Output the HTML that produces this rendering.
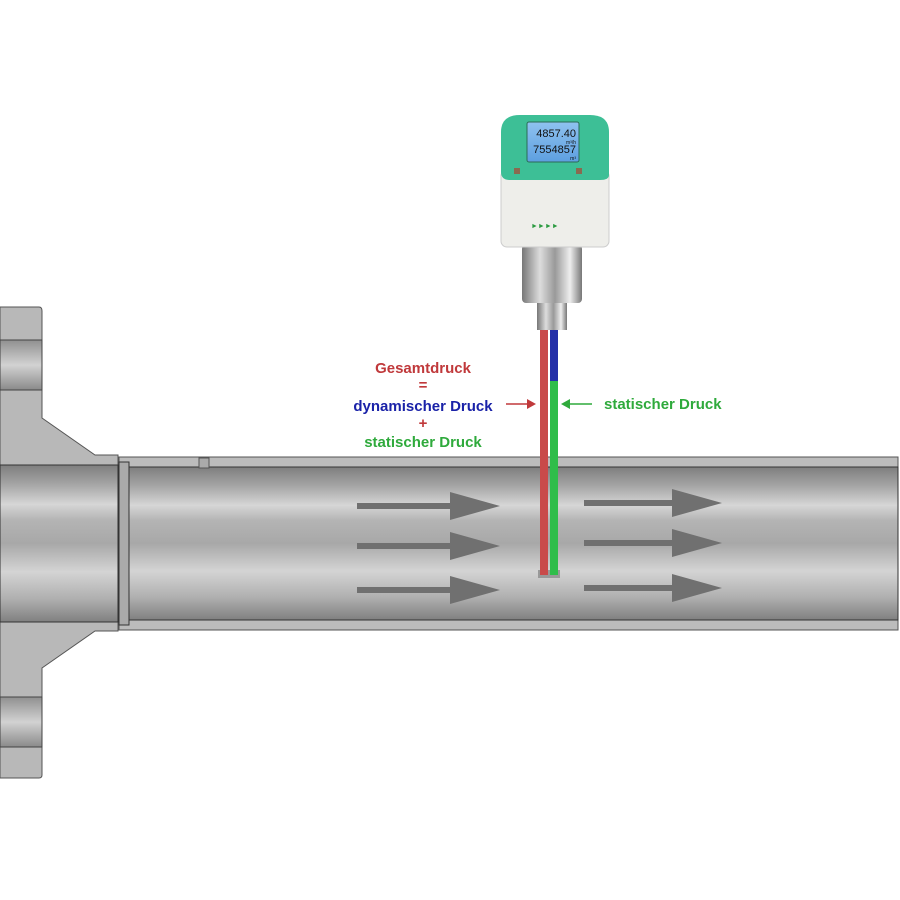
<!DOCTYPE html>
<html><head><meta charset="utf-8"><style>
html,body{margin:0;padding:0;background:#fff;width:900px;height:900px;overflow:hidden}
svg{display:block}
text{font-family:"Liberation Sans",Arial,sans-serif;font-weight:bold}
</style></head><body>
<svg width="900" height="900" viewBox="0 0 900 900" xmlns="http://www.w3.org/2000/svg">
<defs>
<linearGradient id="bore" x1="0" y1="0" x2="0" y2="1">
<stop offset="0" stop-color="#7e7e7e"/><stop offset="0.12" stop-color="#a4a4a4"/>
<stop offset="0.25" stop-color="#d6d6d6"/><stop offset="0.35" stop-color="#b4b4b4"/>
<stop offset="0.5" stop-color="#a8a8a8"/><stop offset="0.68" stop-color="#d4d4d4"/>
<stop offset="0.85" stop-color="#b0b0b0"/><stop offset="1" stop-color="#808080"/>
</linearGradient>
<linearGradient id="hole" x1="0" y1="0" x2="0" y2="1">
<stop offset="0" stop-color="#909090"/><stop offset="0.5" stop-color="#d2d2d2"/><stop offset="1" stop-color="#8a8a8a"/>
</linearGradient>
<linearGradient id="metal" x1="0" y1="0" x2="1" y2="0">
<stop offset="0" stop-color="#777"/><stop offset="0.3" stop-color="#ddd"/><stop offset="0.55" stop-color="#999"/><stop offset="0.8" stop-color="#eee"/><stop offset="1" stop-color="#777"/>
</linearGradient>
<linearGradient id="scr" x1="0" y1="0" x2="0" y2="1">
<stop offset="0" stop-color="#8fc2f0"/><stop offset="1" stop-color="#5d9fe0"/>
</linearGradient>
</defs>
<path d="M0,307 H39 Q42,307 42,311 V418 L95,455 H118 V631 H95 L42,668 V775 Q42,778 39,778 H0 Z" fill="#b8b8b8" stroke="#555" stroke-width="1"/>
<rect x="0" y="340" width="42" height="50" fill="url(#hole)" stroke="#444" stroke-width="1"/>
<rect x="0" y="697" width="42" height="50" fill="url(#hole)" stroke="#444" stroke-width="1"/>
<rect x="0" y="465" width="118" height="157" fill="url(#bore)" stroke="#333" stroke-width="1"/>
<rect x="119" y="457" width="779" height="173" fill="#bcbcbc" stroke="#555" stroke-width="1"/>
<rect x="119" y="467" width="779" height="153" fill="url(#bore)" stroke="#333" stroke-width="1"/>
<rect x="119" y="462" width="10" height="163" fill="#aaa" stroke="#333" stroke-width="1"/>
<rect x="199" y="458" width="10" height="10" fill="#aaa" stroke="#555" stroke-width="1"/>
<g fill="#707070">
<rect x="357" y="503" width="95" height="6"/><polygon points="450,492 500,506 450,520"/>
<rect x="357" y="543" width="95" height="6"/><polygon points="450,532 500,546 450,560"/>
<rect x="357" y="587" width="95" height="6"/><polygon points="450,576 500,590 450,604"/>
<rect x="584" y="500" width="90" height="6"/><polygon points="672,489 722,503 672,517"/>
<rect x="584" y="540" width="90" height="6"/><polygon points="672,529 722,543 672,557"/>
<rect x="584" y="585" width="90" height="6"/><polygon points="672,574 722,588 672,602"/>
</g>
<rect x="538" y="570" width="22" height="8" fill="#999"/>
<rect x="540" y="328" width="8" height="247" fill="#c94a4a"/>
<rect x="550" y="328" width="8" height="53" fill="#2530a8"/>
<rect x="550" y="381" width="8" height="194" fill="#2fbd4a"/>
<rect x="537" y="300" width="30" height="30" fill="url(#metal)"/>
<rect x="522" y="245" width="60" height="58" rx="4" fill="url(#metal)"/>
<rect x="501" y="170" width="108" height="77" rx="6" fill="#eeeeea" stroke="#ccc"/>
<path d="M501,170 V132 Q501,115 520,115 H590 Q609,115 609,132 V175 Q609,180 600,180 H510 Q501,180 501,172 Z" fill="#3dbf96"/>
<rect x="527" y="122" width="52" height="40" rx="2" fill="url(#scr)" stroke="#2a6b55"/>
<text x="576" y="137" font-size="11" text-anchor="end" fill="#111" style="font-weight:normal">4857.40</text>
<text x="576" y="144" font-size="5" text-anchor="end" fill="#111" style="font-weight:normal">m³/h</text>
<text x="576" y="153" font-size="11" text-anchor="end" fill="#111" style="font-weight:normal">7554857</text>
<text x="576" y="160" font-size="5" text-anchor="end" fill="#111" style="font-weight:normal">m³</text>
<rect x="514" y="168" width="6" height="6" fill="#8a6a50"/>
<rect x="576" y="168" width="6" height="6" fill="#8a6a50"/>
<text x="531" y="228" font-size="7" fill="#2a9a40">►►►►</text>
<text x="423" y="373" font-size="15" text-anchor="middle" fill="#c0393b">Gesamtdruck</text>
<text x="423" y="390" font-size="15" text-anchor="middle" fill="#c0393b">=</text>
<text x="423" y="411" font-size="15" text-anchor="middle" fill="#1a22a8">dynamischer Druck</text>
<text x="423" y="428" font-size="15" text-anchor="middle" fill="#c0393b">+</text>
<text x="423" y="447" font-size="15" text-anchor="middle" fill="#2faa3c">statischer Druck</text>
<text x="604" y="409" font-size="15" fill="#2faa3c">statischer Druck</text>
<line x1="506" y1="404" x2="532" y2="404" stroke="#c0393b" stroke-width="1.5"/>
<polygon points="536,404 527,399 527,409" fill="#c0393b"/>
<line x1="566" y1="404" x2="592" y2="404" stroke="#2faa3c" stroke-width="1.5"/>
<polygon points="561,404 570,399 570,409" fill="#2faa3c"/>
</svg>
</body></html>
